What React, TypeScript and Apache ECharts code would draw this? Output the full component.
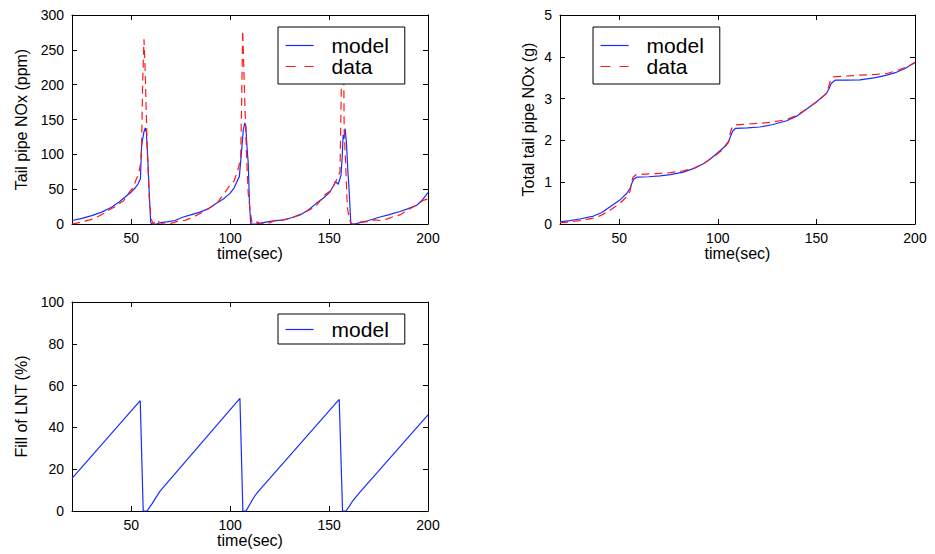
import React, { useEffect, useRef } from 'react';
import * as echarts from 'echarts';

// Tail pipe NOx (ppm)
const noxModelT = [20, 25, 30, 35, 40, 44, 47, 50, 52, 53.5, 54.6, 55.2, 56.2, 57, 57.6, 58.3, 59, 59.8, 60.5, 63, 64.5, 68, 72, 76.3, 80, 84.7, 89, 93.2, 96.5, 99.9, 102, 103.6, 104.6, 105.6, 106.6, 107.4, 107.9, 108.5, 109.1, 109.8, 110.4, 113, 116.7, 121, 126.8, 131, 135.3, 139.5, 143.7, 147, 150.4, 152.2, 153.2, 154.6, 156, 156.6, 157.1, 157.5, 158.1, 158.8, 159.5, 160, 161, 163, 165.6, 170, 175.7, 180, 185.8, 190, 194.3, 197, 200];
const noxModelV = [5, 8, 12, 17, 24, 32, 39, 46, 52, 58, 65, 112, 130, 138, 132, 95, 48, 2, 0, 0, 2, 3, 5, 10, 13, 17, 22, 30, 36, 44, 52, 62, 68, 100, 135, 145, 140, 110, 87, 25, 0, 0, 2, 4, 6, 9, 13, 20, 30, 37, 46, 55, 61, 57, 70, 95, 128, 122, 137, 115, 75, 54, 0, 0, 2, 5, 10, 13, 18, 22, 27, 34, 45];
const noxDataT = [20, 22, 25, 29, 32, 36, 39, 42, 44.3, 46, 49.3, 51, 52.7, 53.5, 54.7, 55.2, 55.7, 56.4, 57, 58, 59.1, 60, 61, 62.5, 64, 66, 70, 74.6, 77, 79.7, 82, 84.7, 87, 90.6, 93, 95.7, 98, 99.9, 102, 104.1, 105.3, 105.8, 106.3, 107.5, 108.3, 109.1, 110.3, 111, 112, 113.5, 115, 118, 120, 123.5, 126, 130.2, 133, 137, 140, 143.7, 146, 147.9, 151.3, 153.5, 155.5, 156.1, 156.4, 157.3, 157.6, 158.3, 159.2, 160.3, 161.5, 164, 166, 169, 173, 176, 179.1, 182, 185.8, 188, 190.9, 194, 197.6, 200];
const noxDataV = [0, 1, 3, 6, 9, 15, 21, 25, 30, 33, 47, 52, 66, 70, 87, 111, 200, 265, 220, 110, 34, 8, 0, 6, 3, 0, 1, 5, 5, 8, 11, 15, 18, 25, 29, 39, 48, 56, 62, 80, 95, 180, 278, 164, 95, 44, 15, 2, 0, 3, 1, 0, 2, 6, 5, 8, 11, 16, 20, 27, 35, 42, 49, 62, 75, 180, 270, 270, 135, 90, 24, 6, 0, 0, 3, 3, 6, 5, 7, 10, 13, 17, 22, 27, 34, 36];

// Total tail pipe NOx (g)
const totModelT = [20, 25, 30, 37, 41, 45.4, 50, 53.8, 55.5, 56.5, 57.5, 59, 65, 70.7, 76, 82.5, 88, 92.7, 96, 99.4, 103, 105.4, 106.5, 107.5, 109, 115, 121.4, 128, 135, 140, 145.1, 150, 155.2, 156.5, 157.5, 159.5, 165, 172.1, 180, 185.7, 190, 195, 200];
const totModelV = [0.05, 0.08, 0.12, 0.19, 0.27, 0.41, 0.56, 0.73, 0.85, 0.98, 1.08, 1.12, 1.13, 1.15, 1.18, 1.24, 1.33, 1.44, 1.55, 1.68, 1.83, 1.97, 2.1, 2.22, 2.29, 2.3, 2.32, 2.38, 2.47, 2.58, 2.75, 2.92, 3.13, 3.25, 3.36, 3.44, 3.44, 3.45, 3.5, 3.56, 3.62, 3.72, 3.87];
const totDataT = [20, 25, 30, 37, 41, 45.4, 50, 53.8, 55.5, 56.3, 57, 58.5, 65, 70.7, 76, 82.5, 88, 92.7, 99.4, 103, 105.5, 106.4, 107.5, 109, 115, 121.4, 128, 135, 140, 145, 150, 155.2, 156.3, 157.2, 158.5, 165, 172, 180, 185.7, 190, 195, 200];
const totDataV = [0.03, 0.05, 0.08, 0.14, 0.21, 0.33, 0.48, 0.65, 0.78, 1.0, 1.12, 1.18, 1.2, 1.21, 1.23, 1.27, 1.34, 1.44, 1.66, 1.8, 1.96, 2.2, 2.33, 2.37, 2.39, 2.41, 2.44, 2.5, 2.6, 2.75, 2.92, 3.12, 3.3, 3.45, 3.52, 3.54, 3.56, 3.58, 3.6, 3.66, 3.74, 3.86];

// Fill of LNT (%)
const lntT = [20, 54.5, 56, 58, 59, 60.5, 62, 64.5, 104.9, 106.4, 108, 109.5, 111, 112.5, 115, 155.1, 156.8, 158.5, 160, 161.5, 163, 165.6, 200];
const lntV = [15.6, 52.8, 0, 0, 1.5, 3.5, 5.8, 9.5, 53.9, 0, 0, 2.5, 5, 7.3, 10.2, 53.4, 0, 0, 2, 4.2, 6, 9, 46];

const xTicks = [50, 100, 150, 200];
const legendTop = ['model', 'data'];
const legendBottom = ['model'];

const pairs = (t: number[], v: number[]) => t.map((x, i) => [x, v[i]]);

const FONT = 'Liberation Sans, Arial, Helvetica, sans-serif';
const BLUE = '#1a2cff';
const RED = '#ff1a1a';

export default function App() {
  const ref = useRef<HTMLDivElement>(null);
  useEffect(() => {
    const chart = echarts.init(ref.current!, null, { renderer: 'svg' });

    const axisLine = { onZero: false, lineStyle: { color: '#000', width: 1 } };
    const tick = { inside: true, length: 5, lineStyle: { color: '#000', width: 1 } };

    const xAxes: any[] = [];
    const yAxes: any[] = [];
    const grids = [
      { left: 72, top: 15, width: 356, height: 209 },
      { left: 560, top: 15, width: 355, height: 209 },
      { left: 72, top: 302, width: 356, height: 209 },
    ];
    const yCfg = [
      { max: 300, interval: 50, name: 'Tail pipe NOx (ppm)', gap: 43 },
      { max: 5, interval: 1, name: 'Total tail pipe NOx (g)', gap: 24 },
      { max: 100, interval: 20, name: 'Fill of LNT (%)', gap: 43 },
    ];
    grids.forEach((g, i) => {
      xAxes.push({
        type: 'value', gridIndex: i, min: 20, max: 200, position: 'bottom',
        axisLine, axisTick: { ...tick, customValues: xTicks },
        axisLabel: { customValues: xTicks, color: '#000', fontSize: 14, fontFamily: FONT, margin: 7 },
        splitLine: { show: false },
        name: 'time(sec)', nameLocation: 'middle', nameGap: 20,
        nameTextStyle: { color: '#000', fontSize: 16, fontFamily: FONT },
      });
      xAxes.push({
        type: 'value', gridIndex: i, min: 20, max: 200, position: 'top',
        axisLine, axisTick: { ...tick, customValues: xTicks },
        axisLabel: { show: false }, splitLine: { show: false },
      });
      const c = yCfg[i];
      yAxes.push({
        type: 'value', gridIndex: i, min: 0, max: c.max, interval: c.interval, position: 'left',
        axisLine: { ...axisLine, show: true }, axisTick: { ...tick, show: true },
        axisLabel: { color: '#000', fontSize: 14, fontFamily: FONT, margin: 8 },
        splitLine: { show: false },
        name: c.name, nameLocation: 'middle', nameGap: c.gap,
        nameTextStyle: { color: '#000', fontSize: 16, fontFamily: FONT },
      });
      yAxes.push({
        type: 'value', gridIndex: i, min: 0, max: c.max, interval: c.interval, position: 'right',
        axisLine: { ...axisLine, show: true }, axisTick: { ...tick, show: true },
        axisLabel: { show: false }, splitLine: { show: false },
      });
    });

    const modelStyle = { color: BLUE, width: 1.2 };
    const dataStyle = { color: RED, width: 1.2, type: [8, 5] };
    const styles: Record<string, any> = { model: modelStyle, data: dataStyle };
    const legendDash: Record<string, any> = { model: 'solid', data: [10, 9] };
    const line = (name: string, xi: number, data: number[][]) => ({
      type: 'line', name, xAxisIndex: xi, yAxisIndex: xi, data,
      symbol: 'none', showSymbol: false, lineStyle: styles[name], itemStyle: { color: styles[name].color },
      silent: true, z: 2,
    });
    const legendData = (names: string[]) =>
      names.map((n) => ({ name: n, lineStyle: { ...styles[n], type: legendDash[n] } }));

    const legendBase = {
      orient: 'vertical', itemWidth: 28, itemHeight: 14, itemGap: 0,
      borderColor: '#000', borderWidth: 1, backgroundColor: '#fff',
      itemStyle: { color: 'rgba(0,0,0,0)', borderWidth: 0, borderColor: 'rgba(0,0,0,0)', opacity: 0 },
      textStyle: { color: '#000', fontSize: 21, fontFamily: FONT, lineHeight: 21, padding: [0, 0, 0, 13] },
      selectedMode: false, z: 10,
    };

    chart.setOption({
      animation: false,
      backgroundColor: '#fff',
      grid: grids,
      xAxis: xAxes,
      yAxis: yAxes,
      legend: [
        { ...legendBase, data: legendData(legendTop), left: 278, top: 27, padding: [8, 16, 7, 7] },
        { ...legendBase, data: legendData(legendTop), left: 593, top: 27, padding: [8, 16, 7, 7] },
        { ...legendBase, data: legendData(legendBottom), left: 278, top: 314, padding: [5, 16, 4, 7] },
      ],
      series: [
        line('model', 0, pairs(noxModelT, noxModelV)),
        line('data', 0, pairs(noxDataT, noxDataV)),
        line('model', 2, pairs(totModelT, totModelV)),
        line('data', 2, pairs(totDataT, totDataV)),
        line('model', 4, pairs(lntT, lntV)),
      ],
    });
    return () => chart.dispose();
  }, []);
  return (
    <div
      ref={ref}
      style={{ position: 'fixed', left: 0, top: 0, width: 935, height: 554, background: '#fff' }}
    />
  );
}
